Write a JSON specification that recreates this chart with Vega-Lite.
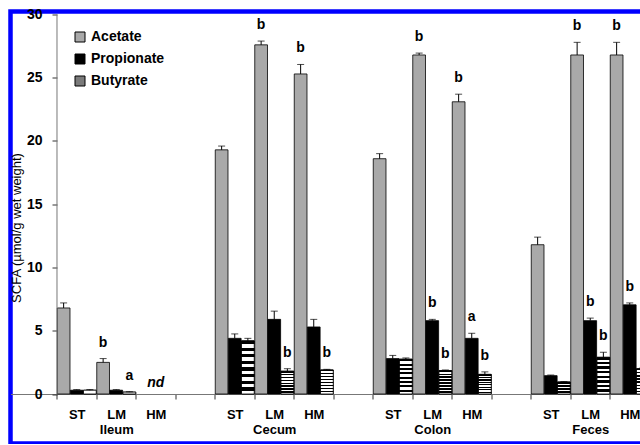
{
  "$schema": "https://vega.github.io/schema/vega-lite/v6.json",
  "width": 639,
  "height": 432,
  "autosize": {"type": "none"},
  "padding": {"left": 10.5, "top": 11.5, "right": 0, "bottom": 0},
  "background": "white",
  "config": {
    "font": "Liberation Sans",
    "view": {"stroke": "#0000ff", "strokeWidth": 4.5},
    "axis": {"grid": false, "domainColor": "#777", "tickColor": "#333", "labelColor": "black", "labelFont": "Liberation Sans", "labelFontWeight": "bold", "labelFontSize": 13}
  },
  "data": {
    "values": [
      {"slot": "Ileum|ST", "acid": "Acetate", "mean": 6.8, "err": 0.4, "letter": ""},
      {"slot": "Ileum|ST", "acid": "Propionate", "mean": 0.3, "err": 0.05, "letter": ""},
      {"slot": "Ileum|ST", "acid": "Butyrate", "mean": 0.3, "err": 0.05, "letter": ""},
      {"slot": "Ileum|LM", "acid": "Acetate", "mean": 2.5, "err": 0.3, "letter": "b"},
      {"slot": "Ileum|LM", "acid": "Propionate", "mean": 0.3, "err": 0.05, "letter": ""},
      {"slot": "Ileum|LM", "acid": "Butyrate", "mean": 0.15, "err": 0.03, "letter": "a"},
      {"slot": "Ileum|HM", "acid": "Propionate", "mean": 0, "err": 0, "letter": "nd"},
      {"slot": "Cecum|ST", "acid": "Acetate", "mean": 19.3, "err": 0.3, "letter": ""},
      {"slot": "Cecum|ST", "acid": "Propionate", "mean": 4.4, "err": 0.35, "letter": ""},
      {"slot": "Cecum|ST", "acid": "Butyrate", "mean": 4.2, "err": 0.2, "letter": ""},
      {"slot": "Cecum|LM", "acid": "Acetate", "mean": 27.6, "err": 0.3, "letter": "b"},
      {"slot": "Cecum|LM", "acid": "Propionate", "mean": 5.9, "err": 0.65, "letter": ""},
      {"slot": "Cecum|LM", "acid": "Butyrate", "mean": 1.8, "err": 0.2, "letter": "b"},
      {"slot": "Cecum|HM", "acid": "Acetate", "mean": 25.3, "err": 0.75, "letter": "b"},
      {"slot": "Cecum|HM", "acid": "Propionate", "mean": 5.3, "err": 0.6, "letter": ""},
      {"slot": "Cecum|HM", "acid": "Butyrate", "mean": 1.9, "err": 0.05, "letter": "b"},
      {"slot": "Colon|ST", "acid": "Acetate", "mean": 18.6, "err": 0.4, "letter": ""},
      {"slot": "Colon|ST", "acid": "Propionate", "mean": 2.8, "err": 0.25, "letter": ""},
      {"slot": "Colon|ST", "acid": "Butyrate", "mean": 2.75, "err": 0.1, "letter": ""},
      {"slot": "Colon|LM", "acid": "Acetate", "mean": 26.8, "err": 0.15, "letter": "b"},
      {"slot": "Colon|LM", "acid": "Propionate", "mean": 5.8, "err": 0.1, "letter": "b"},
      {"slot": "Colon|LM", "acid": "Butyrate", "mean": 1.85, "err": 0.05, "letter": "b"},
      {"slot": "Colon|HM", "acid": "Acetate", "mean": 23.1, "err": 0.6, "letter": "b"},
      {"slot": "Colon|HM", "acid": "Propionate", "mean": 4.4, "err": 0.4, "letter": "a"},
      {"slot": "Colon|HM", "acid": "Butyrate", "mean": 1.55, "err": 0.2, "letter": "b"},
      {"slot": "Feces|ST", "acid": "Acetate", "mean": 11.8, "err": 0.6, "letter": ""},
      {"slot": "Feces|ST", "acid": "Propionate", "mean": 1.45, "err": 0.05, "letter": ""},
      {"slot": "Feces|ST", "acid": "Butyrate", "mean": 0.95, "err": 0.03, "letter": ""},
      {"slot": "Feces|LM", "acid": "Acetate", "mean": 26.8, "err": 1.0, "letter": "b"},
      {"slot": "Feces|LM", "acid": "Propionate", "mean": 5.8, "err": 0.2, "letter": "b"},
      {"slot": "Feces|LM", "acid": "Butyrate", "mean": 2.9, "err": 0.4, "letter": "b"},
      {"slot": "Feces|HM", "acid": "Acetate", "mean": 26.8, "err": 1.0, "letter": "b"},
      {"slot": "Feces|HM", "acid": "Propionate", "mean": 7.05, "err": 0.15, "letter": "b"},
      {"slot": "Feces|HM", "acid": "Butyrate", "mean": 2.0, "err": 0.05, "letter": ""}
    ]
  },
  "transform": [{"calculate": "datum.mean + datum.err", "as": "upper"}],
  "layer": [
    {
      "transform": [{"filter": "datum.letter != 'nd'"}],
      "mark": {"type": "bar", "stroke": "black", "strokeWidth": 0.8},
      "encoding": {
        "x": {
          "field": "slot", "type": "nominal", "sort": null,
          "scale": {
            "domain": ["Ileum|ST", "Ileum|LM", "Ileum|HM", "gap1", "Cecum|ST", "Cecum|LM", "Cecum|HM", "gap2", "Colon|ST", "Colon|LM", "Colon|HM", "gap3", "Feces|ST", "Feces|LM", "Feces|HM"],
            "paddingInner": 0, "paddingOuter": 0.5886, "align": 1
          },
          "axis": {
            "title": null, "orient": "bottom", "offset": -49.5, "tickSize": 5, "tickBand": "extent", "labelAngle": 0,
            "labelPadding": 9, "labelLineHeight": 15, "labelOverlap": false,
            "labelExpr": "isString(datum.value) && indexof(datum.value, '|') >= 0 ? (split(datum.value, '|')[1] == 'LM' ? ['LM', ' ', split(datum.value, '|')[0]] : split(datum.value, '|')[1]) : ''"
          }
        },
        "xOffset": {"field": "acid", "type": "nominal", "scale": {"domain": ["Acetate", "Propionate", "Butyrate"], "paddingInner": 0.03, "paddingOuter": 0.02}},
        "y": {
          "field": "mean", "type": "quantitative",
          "scale": {"domain": [-3.913, 30.237], "nice": false},
          "axis": {
            "title": "SCFA (µmol/g wet weight)", "orient": "left", "offset": -46.5, "values": [0, 5, 10, 15, 20, 25, 30], "domain": false,
            "tickSize": 5, "labelPadding": 10, "labelFontSize": 14,
            "titleFont": "Liberation Sans", "titleFontSize": 13, "titleFontWeight": "normal", "titleColor": "black",
            "titlePadding": 3
          }
        },
        "y2": {"datum": 0},
        "fill": {
          "field": "acid", "type": "nominal",
          "scale": {"domain": ["Acetate", "Propionate", "Butyrate"], "range": ["#a9a9a9", "#000000", "#7a7a7a"]},
          "legend": {
            "title": null, "orient": "none", "legendX": 62.5, "legendY": 18.5, "padding": 0,
            "symbolType": "square", "symbolSize": 100, "symbolStrokeColor": "black", "symbolStrokeWidth": 1,
            "labelFont": "Liberation Sans", "labelFontSize": 14, "labelFontWeight": "bold", "labelColor": "black",
            "labelOffset": 4, "rowPadding": 8
          }
        }
      }
    },
    {
      "transform": [{"filter": "datum.acid == 'Butyrate'"}],
      "mark": {
        "type": "bar", "stroke": "black", "strokeWidth": 0.8,
        "fill": {"gradient": "linear", "x1": 0, "y1": 0, "x2": 0, "y2": 1, "stops": [
          {"offset": 0, "color": "black"}, {"offset": 0.0625, "color": "black"}, {"offset": 0.0625, "color": "white"}, {"offset": 0.125, "color": "white"},
          {"offset": 0.125, "color": "black"}, {"offset": 0.1875, "color": "black"}, {"offset": 0.1875, "color": "white"}, {"offset": 0.25, "color": "white"},
          {"offset": 0.25, "color": "black"}, {"offset": 0.3125, "color": "black"}, {"offset": 0.3125, "color": "white"}, {"offset": 0.375, "color": "white"},
          {"offset": 0.375, "color": "black"}, {"offset": 0.4375, "color": "black"}, {"offset": 0.4375, "color": "white"}, {"offset": 0.5, "color": "white"},
          {"offset": 0.5, "color": "black"}, {"offset": 0.5625, "color": "black"}, {"offset": 0.5625, "color": "white"}, {"offset": 0.625, "color": "white"},
          {"offset": 0.625, "color": "black"}, {"offset": 0.6875, "color": "black"}, {"offset": 0.6875, "color": "white"}, {"offset": 0.75, "color": "white"},
          {"offset": 0.75, "color": "black"}, {"offset": 0.8125, "color": "black"}, {"offset": 0.8125, "color": "white"}, {"offset": 0.875, "color": "white"},
          {"offset": 0.875, "color": "black"}, {"offset": 0.9375, "color": "black"}, {"offset": 0.9375, "color": "white"}, {"offset": 1, "color": "white"}
        ]}
      },
      "encoding": {
        "x": {"field": "slot", "type": "nominal", "sort": null},
        "xOffset": {"field": "acid", "type": "nominal"},
        "y": {"field": "mean", "type": "quantitative"},
        "y2": {"datum": 0}
      }
    },
    {
      "transform": [{"filter": "datum.letter != 'nd'"}],
      "mark": {"type": "rule", "color": "black", "strokeWidth": 1},
      "encoding": {
        "x": {"field": "slot", "type": "nominal", "sort": null},
        "xOffset": {"field": "acid", "type": "nominal"},
        "y": {"field": "mean", "type": "quantitative"},
        "y2": {"field": "upper"}
      }
    },
    {
      "transform": [{"filter": "datum.letter != 'nd'"}],
      "mark": {"type": "tick", "color": "black", "size": 7, "thickness": 1},
      "encoding": {
        "x": {"field": "slot", "type": "nominal", "sort": null},
        "xOffset": {"field": "acid", "type": "nominal"},
        "y": {"field": "upper", "type": "quantitative"}
      }
    },
    {
      "transform": [{"filter": "datum.letter == 'a' || datum.letter == 'b'"}],
      "mark": {"type": "text", "dy": -12, "baseline": "alphabetic", "fontSize": 14, "fontWeight": "bold", "color": "black", "font": "Liberation Sans"},
      "encoding": {
        "x": {"field": "slot", "type": "nominal", "sort": null},
        "xOffset": {"field": "acid", "type": "nominal"},
        "y": {"field": "upper", "type": "quantitative"},
        "text": {"field": "letter"}
      }
    },
    {
      "transform": [{"filter": "datum.letter == 'nd'"}],
      "mark": {"type": "text", "dy": -7, "baseline": "alphabetic", "fontSize": 14, "fontWeight": "bold", "fontStyle": "italic", "color": "black", "font": "Liberation Sans"},
      "encoding": {
        "x": {"field": "slot", "type": "nominal", "sort": null},
        "xOffset": {"field": "acid", "type": "nominal"},
        "y": {"field": "upper", "type": "quantitative"},
        "text": {"field": "letter"}
      }
    },
    {
      "transform": [{"filter": "datum.slot == 'Ileum|ST' && datum.acid == 'Acetate'"}],
      "mark": {"type": "rule", "color": "#777", "strokeWidth": 1},
      "encoding": {
        "x": {"field": "slot", "type": "nominal", "sort": null, "bandPosition": 0},
        "y": {"datum": 0},
        "y2": {"datum": 30}
      }
    }
  ]
}
